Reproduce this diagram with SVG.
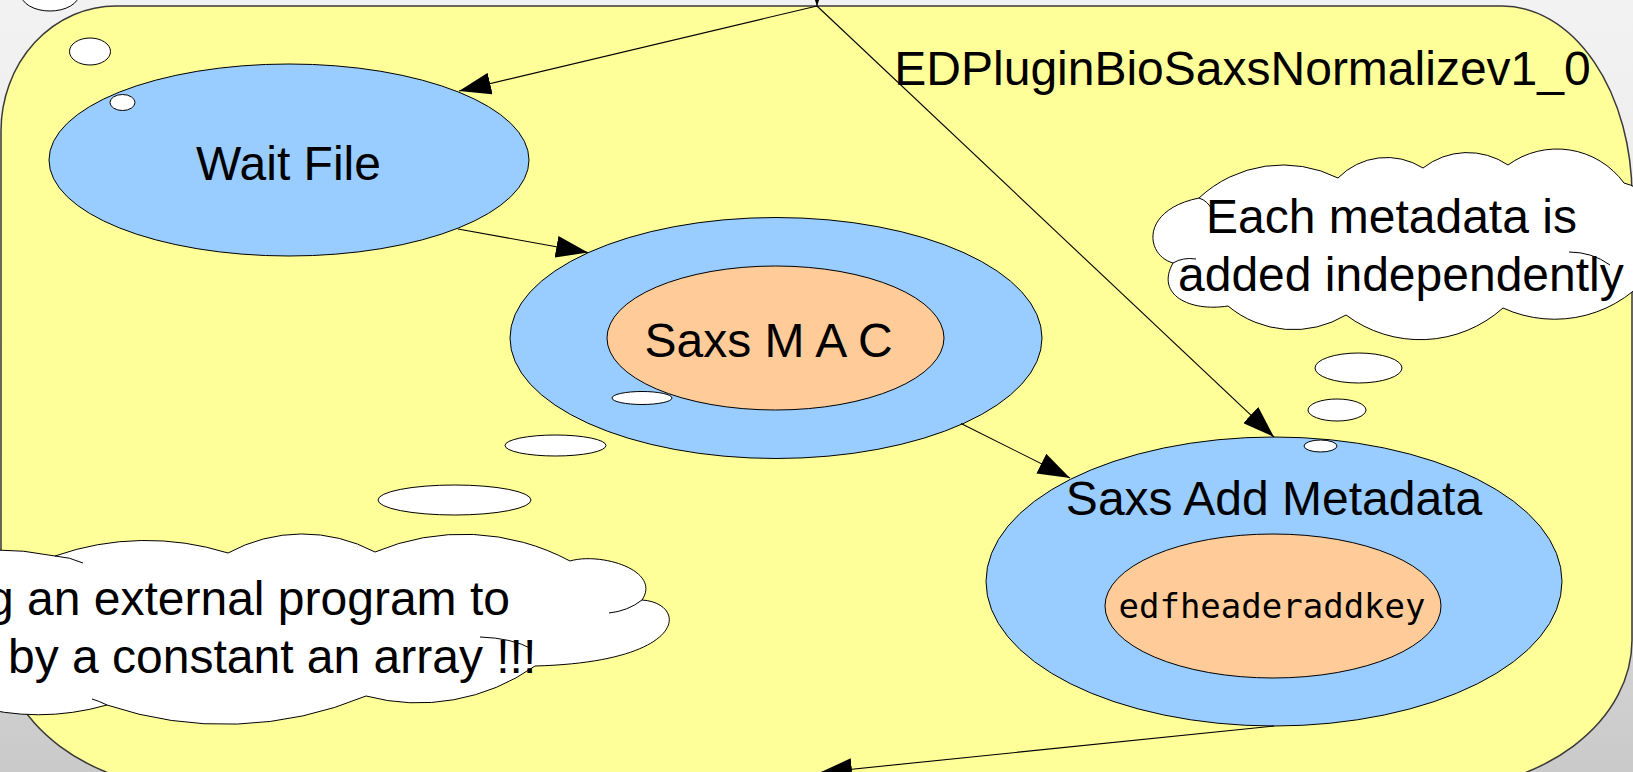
<svg xmlns="http://www.w3.org/2000/svg" width="1633" height="772" viewBox="0 0 1633 772">
  <defs>
    <linearGradient id="bg" x1="0" y1="0" x2="0" y2="1">
      <stop offset="0" stop-color="#f2f2f2"/>
      <stop offset="0.35" stop-color="#ececec"/>
      <stop offset="1" stop-color="#cacaca"/>
    </linearGradient>
    <marker id="arrow" viewBox="0 0 32 22" refX="32" refY="11" markerWidth="32" markerHeight="22" markerUnits="userSpaceOnUse" orient="auto">
      <path d="M0,0 L32,11 L0,22 Z" fill="#000"/>
    </marker>
    <style>
      .plugin { fill: #ffff99; stroke: #3a3a3a; stroke-width: 1.5; }
      .task { fill: #99ccff; stroke: #000; stroke-width: 1; }
      .exec { fill: #ffcc99; stroke: #000; stroke-width: 1; }
      .bubble { fill: #ffffff; stroke: #000; stroke-width: 1; }
      .crease { fill: none; stroke: #000; stroke-width: 1; }
      .edge { fill: none; stroke: #000; stroke-width: 1.1; marker-end: url(#arrow); }
      .label { font-family: "Liberation Sans", Arial, sans-serif; font-size: 48px; fill: #000; }
      .mono { font-family: "DejaVu Sans Mono", "Liberation Mono", monospace; font-size: 34px; fill: #000; }
    </style>
  </defs>

  <rect x="0" y="0" width="1633" height="772" fill="url(#bg)"/>

  <!-- plugin container -->
  <g id="EDPluginBioSaxsNormalizev1_0">
    <path class="plugin" d="M116,6 H1502 A130 190 0 0 1 1632,196 V640 A200 150 0 0 1 1432,790 H201 A200 150 0 0 1 1,640 V131 A115 125 0 0 1 116,6 Z"/>
    <text class="label" x="1242.5" y="85" text-anchor="middle">EDPluginBioSaxsNormalizev1_0</text>
  </g>

  <!-- thought bubbles coming from the upper left -->
  <g id="bubbles-top-left">
    <ellipse class="bubble" cx="50" cy="-6" rx="29" ry="17"/>
    <ellipse class="bubble" cx="90" cy="51.5" rx="20.5" ry="13.5"/>
  </g>

  <!-- nodes -->
  <g id="wait-file">
    <ellipse class="task" cx="289" cy="160" rx="240" ry="96"/>
    <text class="label" x="288.5" y="180" text-anchor="middle">Wait File</text>
  </g>

  <g id="saxs-mac">
    <ellipse class="task" cx="776" cy="338" rx="266" ry="120.5"/>
    <ellipse class="exec" cx="775.5" cy="338" rx="168.5" ry="72"/>
    <text class="label" x="768.5" y="357" text-anchor="middle">Saxs M A C</text>
  </g>

  <g id="saxs-add-metadata">
    <ellipse class="task" cx="1274" cy="581.5" rx="288" ry="144.5"/>
    <ellipse class="exec" cx="1273" cy="606" rx="168" ry="72"/>
    <text class="label" x="1274" y="515" text-anchor="middle">Saxs Add Metadata</text>
    <text class="mono" x="1272" y="618" text-anchor="middle">edfheaderaddkey</text>
  </g>

  <!-- bubble trailing into Wait File -->
  <g id="bubble-wait-file">
    <ellipse class="bubble" cx="122.5" cy="102.5" rx="12.5" ry="8"/>
  </g>

  <!-- callout: metadata note -->
  <g id="note-metadata">
    <path class="bubble" d="M1199,198 A123 123 0 0 1 1338,178 A68 68 0 0 1 1423,168 A72 72 0 0 1 1508,165 A83 83 0 0 1 1624,183 A55 55 0 0 1 1655,268 A124 124 0 0 1 1503,308 A124 124 0 0 1 1346,315 A102 102 0 0 1 1228,306 C1190,312 1155,295 1173,263 C1145,255 1140,210 1199,198 Z"/>
    <path class="crease" d="M1199,198 Q1208,201 1212,210 M1173,263 Q1183,257 1196,259 M1569,252 Q1592,252 1610,265"/>
    <ellipse class="bubble" cx="1358.5" cy="368" rx="43.5" ry="15"/>
    <ellipse class="bubble" cx="1337" cy="410" rx="29" ry="11"/>
    <ellipse class="bubble" cx="1320.5" cy="446" rx="16.5" ry="6"/>
    <text class="label" x="1206" y="233">Each metadata is</text>
    <text class="label" x="1178" y="291">added independently</text>
  </g>

  <!-- callout: external program note -->
  <g id="note-external">
    <path class="bubble" d="M-70,557 A300 300 0 0 1 55,556 A274 274 0 0 1 228,553 A155 155 0 0 1 375,552 A227 227 0 0 1 570,561 C600,552 662,570 642,600 C688,603 690,662 535,666 A203 203 0 0 1 366,696 A368 368 0 0 1 107,705 A250 250 0 0 1 -30,705 L-70,705 Z"/>
    <path class="crease" d="M55,556 Q70,557 83,563 M642,600 Q628,611 609,613 M480,637 Q512,638 532,649 M107,705 Q99,701 92,699"/>
    <ellipse class="bubble" cx="454.5" cy="500" rx="76.5" ry="15"/>
    <ellipse class="bubble" cx="555.5" cy="445.5" rx="50.5" ry="10.5"/>
    <ellipse class="bubble" cx="642" cy="398" rx="30" ry="6.5"/>
    <text class="label" x="-13" y="615">g an external program to</text>
    <text class="label" x="8" y="673">by a constant an array !!!</text>
  </g>

  <!-- connectors -->
  <g id="connectors">
    <line class="edge" x1="817" y1="-40" x2="817" y2="6"/>
    <line class="edge" x1="817" y1="6" x2="459" y2="91"/>
    <line class="edge" x1="458" y1="229" x2="588" y2="252.5"/>
    <line class="edge" x1="961" y1="423.5" x2="1070" y2="478"/>
    <line class="edge" x1="817" y1="6" x2="1274" y2="437"/>
    <line class="edge" x1="1274" y1="726" x2="820" y2="772.5"/>
  </g>
</svg>
